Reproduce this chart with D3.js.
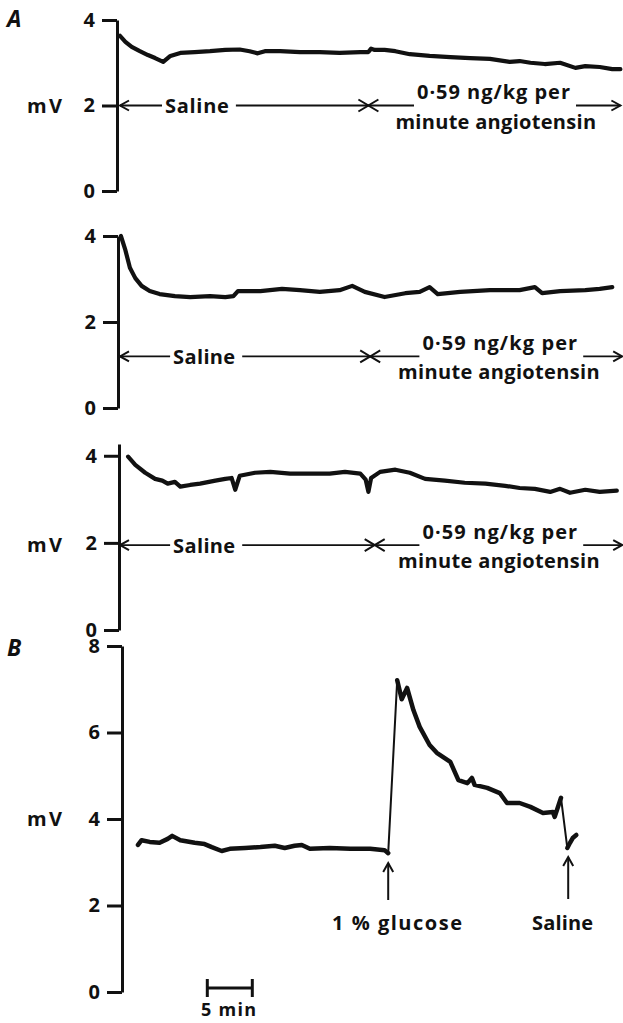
<!DOCTYPE html>
<html><head><meta charset="utf-8">
<script src="https://cdn.jsdelivr.net/npm/d3@7"></script>
<style>
body{margin:0;background:#fff}
svg{display:block}
text{font-family:"Open Sans",Lato,sans-serif;font-weight:700;fill:#111}
</style>
</head><body>
<svg id="chart" width="623" height="1023"></svg>
<script>
// ---------- DATA (time in minutes, potential in mV) ----------
const timeA1 = [0,0.6,1.3,2.2,3.1,3.9,4.8,5.6,6.7,8.3,10,11.7,13.3,14.4,15.3,16.1,17.8,20,22.2,24.4,26.7,27.6,27.9,28.3,29.4,30.6,32.2,34.4,36.7,38.9,41.1,43.3,44.4,45.6,47.2,48.9,50.6,51.7,53.3,54.7,55.6];
const mvA1   = [3.63,3.49,3.37,3.27,3.18,3.11,3.02,3.16,3.23,3.25,3.27,3.30,3.31,3.27,3.22,3.27,3.27,3.25,3.25,3.23,3.25,3.25,3.33,3.30,3.30,3.27,3.20,3.16,3.13,3.11,3.09,3.02,3.04,3.00,2.97,3.00,2.88,2.92,2.90,2.85,2.85];

const timeA2 = [0.1,0.6,1.1,1.7,2.4,3.3,4.4,6.1,7.8,10,11.7,12.6,13.1,15.6,18,20,22.2,24.4,25.8,27.2,29.4,31.7,33.3,34.4,35.3,37.8,41.1,44.4,46.1,46.9,48.9,51.7,53.3,54.7];
const mvA2   = [4.0,3.67,3.26,3.02,2.84,2.72,2.65,2.60,2.58,2.60,2.58,2.60,2.72,2.72,2.77,2.74,2.70,2.74,2.84,2.70,2.58,2.67,2.70,2.81,2.65,2.70,2.74,2.74,2.81,2.67,2.72,2.74,2.77,2.81];

const timeA3 = [0.9,1.7,2.8,3.9,4.7,5.3,6.1,6.7,7.8,8.9,10.6,11.7,12.4,12.8,13.3,15,16.7,18.9,21.1,23.3,25,26.7,27.3,27.6,27.9,28.9,30.6,32.2,33.9,36.1,38.3,40.6,42.8,44.4,46.1,47.8,48.9,50,51.7,53.3,55.2];
const mvA3   = [3.98,3.79,3.61,3.47,3.43,3.36,3.40,3.29,3.33,3.36,3.43,3.47,3.49,3.22,3.54,3.61,3.63,3.59,3.59,3.59,3.63,3.59,3.45,3.17,3.49,3.63,3.68,3.61,3.47,3.43,3.38,3.36,3.31,3.26,3.24,3.17,3.24,3.15,3.22,3.17,3.20];

const timeBbase  = [2.0,2.4,3.3,4.4,5.3,5.8,6.7,8.3,9.4,10.2,11.3,12.2,13.9,15.6,17.2,18.3,19.4,20.2,21.1,23.3,25.6,27.8,29.4,29.8];
const mvBbase    = [3.40,3.51,3.47,3.45,3.54,3.61,3.51,3.45,3.42,3.35,3.26,3.31,3.33,3.35,3.38,3.33,3.38,3.40,3.31,3.33,3.31,3.31,3.28,3.21];
const timeBdecay = [30.8,31.3,31.9,32.6,33.3,34.4,35.2,36.7,37.6,38.6,39.1,39.4,40.8,42.2,43.0,44.4,45.6,47.0,48.1,48.3,49.0];
const mvBdecay   = [7.21,6.77,7.03,6.52,6.13,5.71,5.53,5.32,4.90,4.83,4.95,4.79,4.72,4.60,4.37,4.37,4.28,4.14,4.16,4.05,4.49];
const timeBend   = [49.7,50.0,50.3,50.7];
const mvBend     = [3.33,3.45,3.56,3.63];

const ticksA = [0,2,4];
const ticksB = [0,2,4,6,8];
const unitLabel = "mV";
const salineLabel = "Saline";
const angLine1 = "0·59 ng/kg per";
const angLine2 = "minute angiotensin";
const glucoseLabel = "1 % glucose";
const salineBLabel = "Saline";
const scaleLabel = "5 min";
const glucoseT = 29.8, salineBT = 49.8;
const scaleBar = [9.7, 14.7];

// ---------- LAYOUT ----------
const svg = d3.select("#chart");
const x = d3.scaleLinear().domain([0, 56]).range([120, 624]);
const ink = "#111";

const panels = [
  {t: timeA1, v: mvA1, axisX: 117, dom: [0,4],    rng: [191,20],  ticks: ticksA, mv: true,
   ann: {v: 2,   sal: [5.0,12.1], cross: 27.6, ang: [33.0,50.0], end: 55.6, min: [30.6,52.9]}},
  {t: timeA2, v: mvA2, axisX: 118, dom: [0,4],    rng: [408,236], ticks: ticksA, mv: false,
   ann: {v: 1.2, sal: [5.9,12.8], cross: 27.8, ang: [33.6,50.8], end: 55.8, min: [30.9,53.3]}},
  {t: timeA3, v: mvA3, axisX: 119, dom: [0,4.27], rng: [630,444], ticks: ticksA, mv: true,
   ann: {v: 1.95,sal: [5.9,12.8], cross: 28.3, ang: [33.6,50.8], end: 55.8, min: [30.9,53.3]}},
];

function arrowHead(g, px, py, dir, len, hw) {
  len = len || 9; hw = hw || 5;
  let d;
  if (dir === "left")  d = `M${px+len},${py-hw}L${px},${py}L${px+len},${py+hw}`;
  if (dir === "right") d = `M${px-len},${py-hw}L${px},${py}L${px-len},${py+hw}`;
  if (dir === "up")    d = `M${px-hw},${py+len}L${px},${py}L${px+hw},${py+len}`;
  g.append("path").attr("d", d).attr("fill","none").attr("stroke",ink)
   .attr("stroke-width",2).attr("stroke-linejoin","miter");
}
function hline(g, x1, x2, yy) {
  g.append("line").attr("x1",x1).attr("x2",x2).attr("y1",yy).attr("y2",yy)
   .attr("stroke",ink).attr("stroke-width",1.8);
}
function drawAxis(yScale, ticks, axisX) {
  const ax = svg.append("g").attr("transform",`translate(${axisX},0)`)
    .call(d3.axisLeft(yScale).tickValues(ticks).tickSize(15).tickSizeOuter(0).tickPadding(7).tickFormat(d3.format("d")));
  ax.select(".domain").attr("stroke",ink).attr("stroke-width",3).attr("stroke-linejoin","miter");
  ax.selectAll(".tick line").attr("stroke",ink).attr("stroke-width",3);
  ax.selectAll(".tick text").attr("font-size",20).attr("font-family","'Open Sans', sans-serif")
    .attr("font-weight",700).attr("fill",ink);
}
const traceLine = (ys) => d3.line().x(d => x(d[0])).y(d => ys(d[1])).curve(d3.curveLinear);
function drawTrace(ys, t, v, w) {
  svg.append("path").datum(d3.zip(t, v)).attr("d", traceLine(ys))
    .attr("fill","none").attr("stroke",ink).attr("stroke-width",w)
    .attr("stroke-linejoin","round").attr("stroke-linecap","round");
}
function fitText(g, x1, x2, yy, str, size) {
  return g.append("text").attr("x", x1).attr("y", yy).attr("font-size", size || 20)
    .attr("textLength", x2 - x1).attr("lengthAdjust","spacing").text(str);
}

// panel letters
svg.append("text").attr("x",7).attr("y",27).attr("font-size",23).attr("font-style","italic").text("A");

panels.forEach(p => {
  const ys = d3.scaleLinear().domain(p.dom).range(p.rng);
  drawAxis(ys, p.ticks, p.axisX);
  drawTrace(ys, p.t, p.v, 4.2);
  const a = p.ann, yy = ys(a.v);
  const g = svg.append("g");
  if (p.mv) fitText(g, 27, 62, yy + 7, unitLabel);
  // Saline arrow
  arrowHead(g, x(0), yy, "left");
  hline(g, x(0), x(a.sal[0]) - 3, yy);
  fitText(g, x(a.sal[0]), x(a.sal[1]), yy + 7.5, salineLabel);
  hline(g, x(a.sal[1]) + 7, x(a.cross), yy);
  arrowHead(g, x(a.cross), yy, "right", 10, 6);
  arrowHead(g, x(a.cross), yy, "left", 10, 6);
  hline(g, x(a.cross), x(a.ang[0]) - 3, yy);
  fitText(g, x(a.ang[0]), x(a.ang[1]), yy - 6.5, angLine1);
  hline(g, x(a.ang[1]) + 6, x(a.end), yy);
  arrowHead(g, x(a.end), yy, "right");
  fitText(g, x(a.min[0]), x(a.min[1]), yy + 23, angLine2);
});

// ---------- Panel B ----------
svg.append("text").attr("x",7).attr("y",656).attr("font-size",23).attr("font-style","italic").text("B");
const yB = d3.scaleLinear().domain([0,8]).range([992,646]);
drawAxis(yB, ticksB, 122);
fitText(svg, 27, 62, yB(4) + 7, unitLabel);
drawTrace(yB, timeBbase, mvBbase, 4.5);
drawTrace(yB, timeBdecay, mvBdecay, 4.5);
drawTrace(yB, timeBend, mvBend, 4.5);
// fast pen movements (thin)
const lastB = timeBbase.length - 1, lastD = timeBdecay.length - 1;
drawTrace(yB, [timeBbase[lastB], timeBdecay[0]], [mvBbase[lastB], mvBdecay[0]], 2);
drawTrace(yB, [timeBdecay[lastD], timeBend[0]], [mvBdecay[lastD], mvBend[0]], 2);

// event arrows
const gB = svg.append("g");
[[glucoseT, 863, 900, glucoseLabel, 332, 462], [salineBT, 857, 899, salineBLabel, 532, 593]].forEach(([t, y1, y2, lab, l1, l2]) => {
  gB.append("line").attr("x1",x(t)).attr("x2",x(t)).attr("y1",y1).attr("y2",y2)
    .attr("stroke",ink).attr("stroke-width",2);
  arrowHead(gB, x(t), y1, "up", 9, 5);
  fitText(gB, l1, l2, 930, lab);
});

// time scale bar
const sb = svg.append("g");
sb.append("line").attr("x1",x(scaleBar[0])).attr("x2",x(scaleBar[1])).attr("y1",988).attr("y2",988)
  .attr("stroke",ink).attr("stroke-width",3);
scaleBar.forEach(t => sb.append("line").attr("x1",x(t)).attr("x2",x(t)).attr("y1",979).attr("y2",997)
  .attr("stroke",ink).attr("stroke-width",3));
fitText(sb, 201, 256, 1016, scaleLabel, 18);
</script>
</body></html>
